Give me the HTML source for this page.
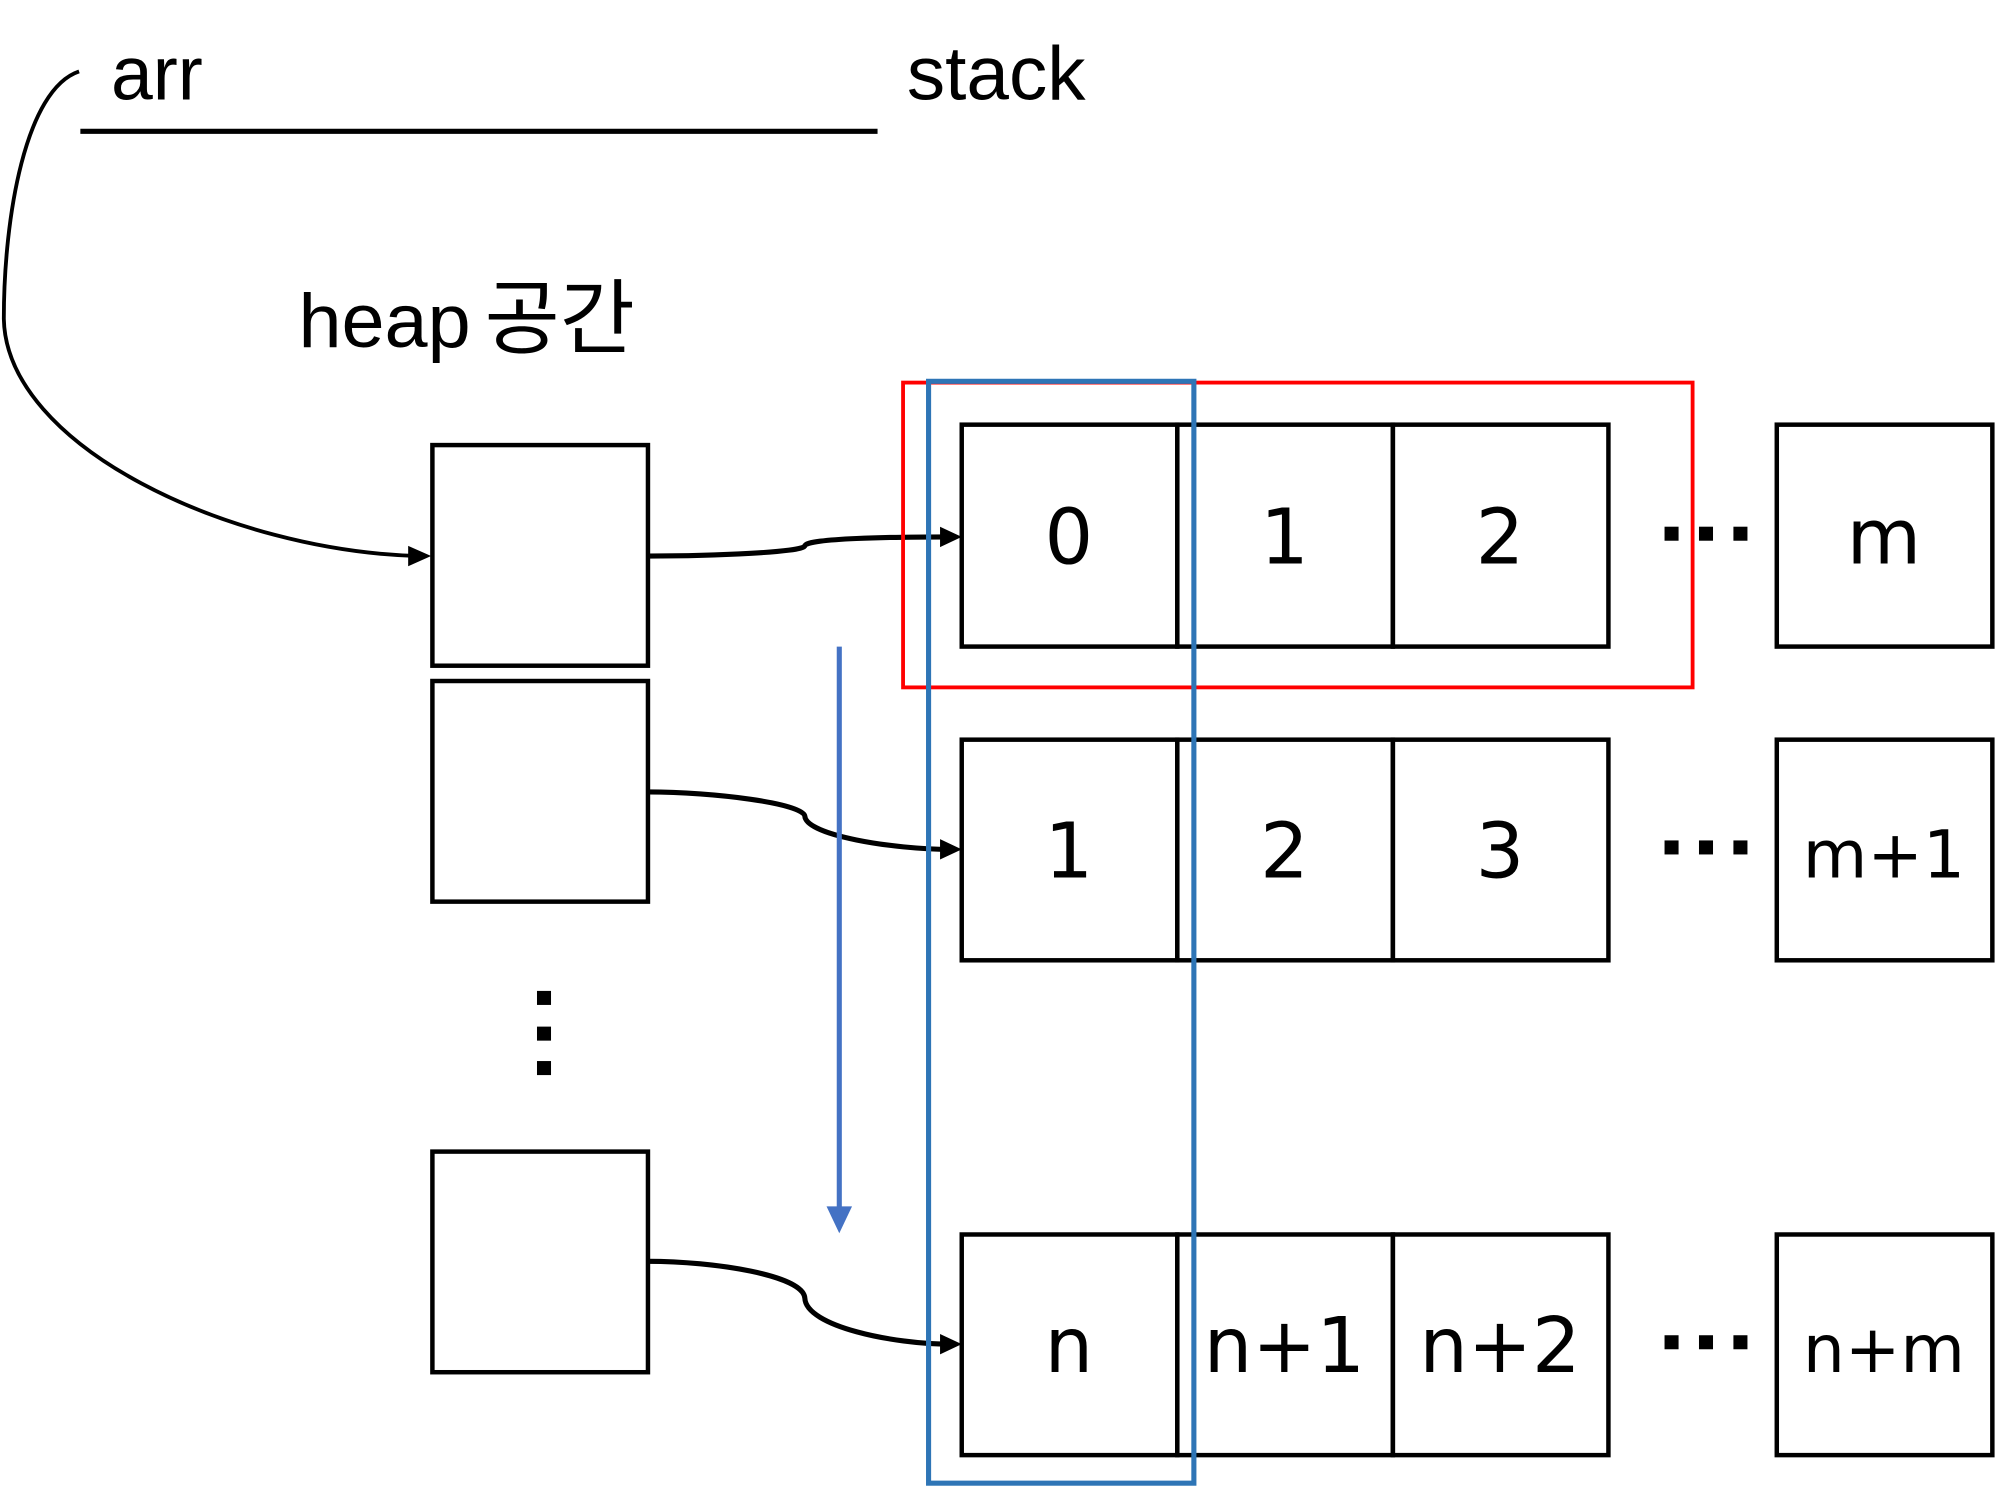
<!DOCTYPE html>
<html><head><meta charset="utf-8"><style>html,body{margin:0;padding:0;background:#fff}svg{display:block}</style></head><body>
<svg width="2000" height="1487" viewBox="0 0 1568 1166" preserveAspectRatio="none" xmlns="http://www.w3.org/2000/svg">
<g font-family="Liberation Sans, Noto Sans CJK KR, sans-serif" fill="#000">
<text x="87" y="78" font-size="60" textLength="72" lengthAdjust="spacingAndGlyphs">arr</text>
<text x="711" y="78" font-size="60" textLength="140" lengthAdjust="spacingAndGlyphs">stack</text>
<text x="234" y="272" font-size="60" textLength="135" lengthAdjust="spacingAndGlyphs">heap</text>
<text x="380" y="272" font-size="64" font-family="Noto Sans CJK KR, sans-serif">공간</text>
</g>
<line x1="63" y1="103" x2="688" y2="103" stroke="#000" stroke-width="4"/>
<path d="M62,56 C20,70 3,170 3,250 C5,350 180,432 328,436" fill="none" stroke="#000" stroke-width="3"/>
<path d="M320,428 L338,436 L320,444z" fill="#000"/>
<g fill="none" stroke="#000" stroke-width="3.5">
<rect x="339" y="349" width="169" height="173"/>
<rect x="339" y="534" width="169" height="173"/>
<rect x="339" y="903" width="169" height="173"/>
<rect x="754" y="333" width="169" height="174"/><rect x="923" y="333" width="169" height="174"/><rect x="1092" y="333" width="169" height="174"/><rect x="1393" y="333" width="169" height="174"/>
<rect x="754" y="580" width="169" height="173"/><rect x="923" y="580" width="169" height="173"/><rect x="1092" y="580" width="169" height="173"/><rect x="1393" y="580" width="169" height="173"/>
<rect x="754" y="968" width="169" height="173"/><rect x="923" y="968" width="169" height="173"/><rect x="1092" y="968" width="169" height="173"/><rect x="1393" y="968" width="169" height="173"/>
<path d="M508,436 C560,436 630,433 631,428 C632,422 700,421 745,421" stroke-width="4"/>
<path d="M508,621 C560,621 630,630 631,640 C632,655 700,666 745,666" stroke-width="4"/>
<path d="M508,989 C560,989 630,1000 631,1018 C632,1040 700,1054 745,1054" stroke-width="4"/>
</g>
<path d="M737,413 L754,421 L737,429z M737,658 L754,666 L737,674z M737,1046 L754,1054 L737,1062z" fill="#000"/>
<g fill="#000">
<rect x="421" y="777" width="11" height="11"/><rect x="421" y="805" width="11" height="11"/><rect x="421" y="832" width="11" height="11"/>
<rect x="1305" y="413" width="11" height="11"/><rect x="1332" y="413" width="11" height="11"/><rect x="1359" y="413" width="11" height="11"/>
<rect x="1305" y="659" width="11" height="11"/><rect x="1332" y="659" width="11" height="11"/><rect x="1359" y="659" width="11" height="11"/>
<rect x="1305" y="1047" width="11" height="11"/><rect x="1332" y="1047" width="11" height="11"/><rect x="1359" y="1047" width="11" height="11"/>
</g>
<g font-family="DejaVu Sans, Liberation Sans, sans-serif" font-size="60" text-anchor="middle" fill="#000">
<text x="838" y="442">0</text><text x="1007" y="442">1</text><text x="1176" y="442">2</text><text x="1477" y="442">m</text>
<text x="838" y="688">1</text><text x="1007" y="688">2</text><text x="1176" y="688">3</text><text x="1477" y="688" font-size="52">m+1</text>
<text x="838" y="1076">n</text><text x="1007" y="1076">n+1</text><text x="1176" y="1076">n+2</text><text x="1477" y="1076" font-size="52">n+m</text>
</g>
<rect x="708" y="300" width="619" height="239" fill="none" stroke="#ff0000" stroke-width="3"/>
<rect x="728" y="299" width="208" height="864" fill="none" stroke="#2e75b6" stroke-width="4"/>
<line x1="658" y1="507" x2="658" y2="950" stroke="#4472c4" stroke-width="4"/>
<path d="M648,946 L658,967 L668,946z" fill="#4472c4"/>
</svg>
</body></html>
